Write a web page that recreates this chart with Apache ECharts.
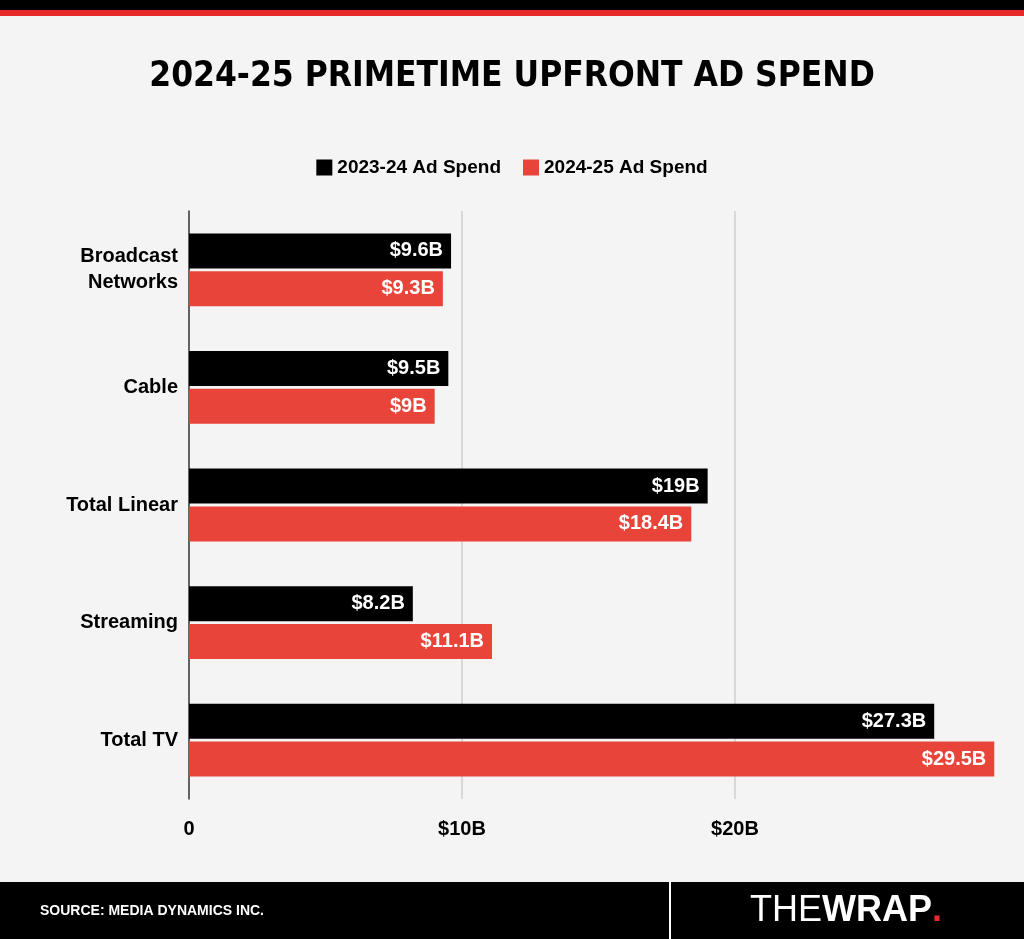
<!DOCTYPE html>
<html><head><meta charset="utf-8">
<script src="https://cdn.jsdelivr.net/npm/echarts@6/dist/echarts.min.js"></script>
<style>html,body{margin:0;padding:0;background:#f4f4f4}#c{width:1024px;height:939px}</style>
</head><body><div id="c"></div>
<script>
const categories = ['Broadcast\nNetworks','Cable','Total Linear','Streaming','Total TV'];
const spend2324 = [9.6, 9.5, 19, 8.2, 27.3];
const spend2425 = [9.3, 9, 18.4, 11.1, 29.5];
const gridValues = [10, 20];
const seriesNames = ['2023-24 Ad Spend','2024-25 Ad Spend'];
const chart = echarts.init(document.getElementById('c'));
const lbl = {show:true, position:'insideRight', color:'#fff', fontWeight:'bold', fontSize:20, fontFamily:'Liberation Sans, Arial', distance:8, formatter: p => '$' + p.value + 'B'};
chart.setOption({
  backgroundColor:'#f4f4f4',
  animation:false,
  title:{text:'2024-25 PRIMETIME UPFRONT AD SPEND', left:'center', top:54,
    textStyle:{fontFamily:'DejaVu Sans Condensed', fontWeight:'bold', fontSize:35, color:'#000'}},
  legend:{top:153, left:'center', itemWidth:16, itemHeight:16, itemGap:22, icon:'rect',
    textStyle:{fontSize:19, fontWeight:'bold', color:'#000', fontFamily:'Liberation Sans, Arial'}},
  grid:{left:189, right:27, top:211, bottom:140},
  xAxis:{type:'value', min:0, max:29.6, interval:10,
    axisLabel:{showMaxLabel:false, margin:20, fontSize:20, fontWeight:'bold', color:'#000', fontFamily:'Liberation Sans, Arial', formatter: v => v===0?'0':'$'+v+'B'},
    splitLine:{show:false}, axisLine:{show:false}, axisTick:{show:false}},
  yAxis:{type:'category', inverse:true, data:categories,
    axisLine:{lineStyle:{color:'#333', width:1.5}}, axisTick:{show:false},
    axisLabel:{margin:11, fontSize:20, fontWeight:'bold', color:'#000', lineHeight:26, fontFamily:'Liberation Sans, Arial'}},
  series:[
    {name:seriesNames[0], type:'bar', data:spend2324, barWidth:35, barGap:'8%', itemStyle:{color:'#000'}, label:lbl, z:3,
     markLine:{silent:true, symbol:'none', label:{show:false}, lineStyle:{color:'#cfcfcf', width:1.5, type:'solid'}, z:1,
       data: gridValues.map(v => ({xAxis:v}))}},
    {name:seriesNames[1], type:'bar', data:spend2425, barWidth:35, itemStyle:{color:'#e8443a'}, label:lbl, z:3}
  ],
  graphic:[
    {type:'rect', shape:{x:0,y:0,width:1024,height:10}, style:{fill:'#000'}},
    {type:'rect', shape:{x:0,y:10,width:1024,height:6}, style:{fill:'#e8292b'}},
    {type:'rect', shape:{x:0,y:882,width:1024,height:57}, style:{fill:'#000'}},
    {type:'rect', shape:{x:669,y:882,width:2,height:57}, style:{fill:'#fff'}},
    {type:'text', x:40, y:904, style:{text:'SOURCE: MEDIA DYNAMICS INC.', fill:'#fff', font:'bold 14px Liberation Sans, Arial'}},
    {type:'text', x:750, y:893, style:{text:'{a|THE}{b|WRAP}{c|.}', rich:{
      a:{fill:'#fff', font:'36px Liberation Sans Narrow, Arial'},
      b:{fill:'#fff', font:'bold 36px Liberation Sans Narrow, Arial'},
      c:{fill:'#e8292b', font:'bold 36px Liberation Sans Narrow, Arial'}}}}
  ]
});
</script></body></html>
